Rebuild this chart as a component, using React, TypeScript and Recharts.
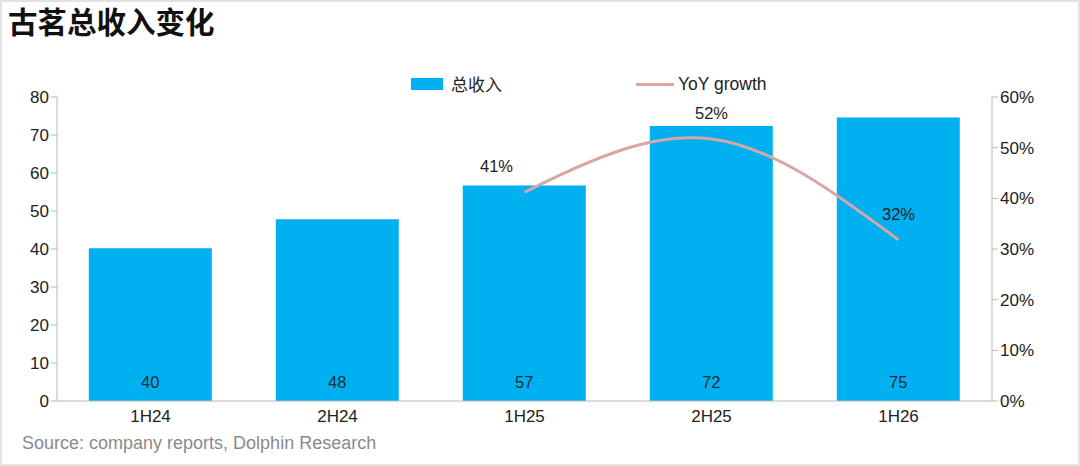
import React from "react";
import { ComposedChart, Bar, Line, XAxis, YAxis, LabelList } from "recharts";

const periods = ["1H24", "2H24", "1H25", "2H25", "1H26"];
const revenue = [40.2, 47.8, 56.7, 72.4, 74.6];
const revenueLabels = ["40", "48", "57", "72", "75"];
const yoyGrowth = [null, null, 41.2, 51.7, 31.8];
const yoyLabels = ["", "", "41%", "52%", "32%"];
const leftTicks = [0, 10, 20, 30, 40, 50, 60, 70, 80];
const rightTicks = [0, 10, 20, 30, 40, 50, 60];

const data = periods.map((p, i) => ({
  period: p,
  revenue: revenue[i],
  yoy: yoyGrowth[i],
}));

const FONT = "'Liberation Sans', Arial, 'Noto Sans CJK SC', sans-serif";
const CJK = "'Noto Sans CJK SC', sans-serif";
const AXIS = "#b8b8b8";
const BLUE = "#00b0f0";
const PINK = "#d8a6a4";

const renderYoyLabel = (props: any) => {
  const { x, y, index } = props;
  const text = yoyLabels[index];
  if (!text) return null;
  const dx = index === 2 ? -28 : 0;
  return (
    <text x={x + dx} y={y - 20} textAnchor="middle" fontSize={16.5} fill="#222" fontFamily={FONT}>
      {text}
    </text>
  );
};

const renderBarLabel = (props: any) => {
  const { x, width, index } = props;
  return (
    <text x={x + width / 2} y={388} textAnchor="middle" fontSize={16.5} fill="#1f2d3d" fontFamily={FONT}>
      {revenueLabels[index]}
    </text>
  );
};

export default function App() {
  return (
    <div
      style={{
        position: "fixed",
        left: 0,
        top: 0,
        width: 1080,
        height: 466,
        background: "#fff",
        boxSizing: "border-box",
        border: "2px solid #e2e2e2",
        fontFamily: FONT,
        overflow: "hidden",
      }}
    >
      <div
        style={{
          position: "absolute",
          left: 6,
          top: 0,
          fontSize: 29.5,
          lineHeight: "36px",
          fontWeight: "bold",
          color: "#111",
          fontFamily: CJK,
        }}
      >
        古茗总收入变化
      </div>

      <div style={{ position: "absolute", left: 409, top: 72, height: 20, display: "flex", alignItems: "center", fontSize: 17, lineHeight: "20px", color: "#222" }}>
        <span style={{ display: "inline-block", width: 32, height: 12, background: BLUE, marginRight: 8 }} />
        <span style={{ fontFamily: CJK }}>总收入</span>
      </div>
      <div style={{ position: "absolute", left: 634, top: 72, height: 20, display: "flex", alignItems: "center", fontSize: 17.5, lineHeight: "20px", color: "#222" }}>
        <span style={{ display: "inline-block", width: 38, height: 3, background: PINK, marginRight: 4 }} />
        <span>YoY growth</span>
      </div>

      <div style={{ position: "absolute", left: 20, top: 431, fontSize: 18, color: "#8a8a8a" }}>
        Source: company reports, Dolphin Research
      </div>

      <div style={{ position: "absolute", left: -2, top: -2 }}>
        <ComposedChart
          width={1080}
          height={466}
          data={data}
          margin={{ top: 97, right: 28, bottom: 35, left: 7 }}
          barCategoryGap="17%"
        >
          <XAxis
            dataKey="period"
            axisLine={{ stroke: AXIS }}
            tickLine={false}
            tick={{ fontSize: 17, fill: "#222", fontFamily: FONT }}
            height={30}
            tickMargin={3}
          />
          <YAxis
            yAxisId="left"
            domain={[0, 80]}
            ticks={leftTicks}
            axisLine={{ stroke: AXIS }}
            tickLine={{ stroke: AXIS }}
            tickSize={6}
            tick={{ fontSize: 17, fill: "#222", fontFamily: FONT }}
            width={50}
            interval={0}
          />
          <YAxis
            yAxisId="right"
            orientation="right"
            domain={[0, 60]}
            ticks={rightTicks}
            tickFormatter={(v: number) => `${v}%`}
            axisLine={{ stroke: AXIS }}
            tickLine={{ stroke: AXIS }}
            tickSize={6}
            tick={{ fontSize: 17, fill: "#222", fontFamily: FONT }}
            width={60}
            interval={0}
          />
          <Bar yAxisId="left" dataKey="revenue" fill={BLUE} isAnimationActive={false}>
            <LabelList dataKey="revenue" content={renderBarLabel} />
          </Bar>
          <Line
            yAxisId="right"
            type="natural"
            dataKey="yoy"
            stroke={PINK}
            strokeWidth={3}
            dot={false}
            connectNulls={false}
            isAnimationActive={false}
          >
            <LabelList dataKey="yoy" content={renderYoyLabel} />
          </Line>
        </ComposedChart>
      </div>
    </div>
  );
}
